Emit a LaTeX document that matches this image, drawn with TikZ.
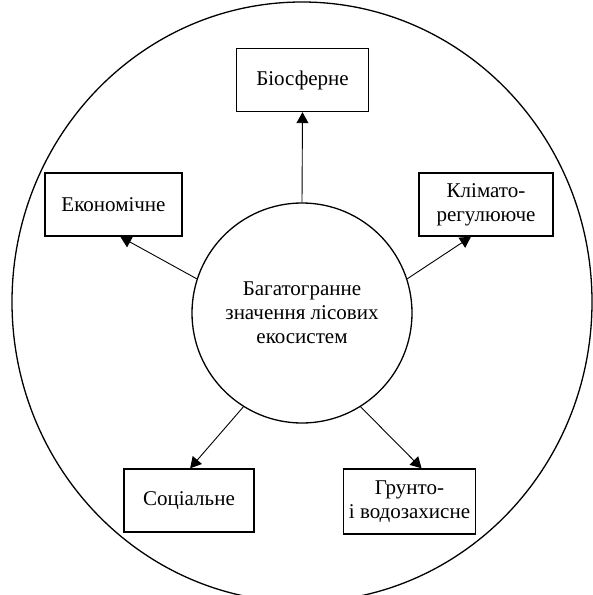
\documentclass[tikz,border=0pt]{standalone}
\usepackage{fontspec}
\setmainfont{Liberation Serif}
\usetikzlibrary{arrows.meta}
\usetikzlibrary{positioning}
\tikzset{
	box/.style={rectangle, draw=black, line width=1.4pt, align=center,
		minimum width=132pt, minimum height=63pt, inner sep=2pt},
	hubnode/.style={circle, draw=black, line width=1.3pt, align=center,
		minimum size=220pt, inner sep=0pt},
}

\begin{document}
\begin{tikzpicture}[x=1pt, y=-1pt,
	font=\fontsize{21}{24}\selectfont,
	link/.style={line width=0.9pt, -{Triangle[length=11pt,width=12pt]}}]
	\useasboundingbox (0,0) rectangle (593,595);

	% outer ring
	\draw[line width=1.3pt] (302,302) ellipse[x radius=290, y radius=300];

	% centre node
	\node[hubnode] (hub) at (302,313) {Багатогранне\\значення лісових\\екосистем};

	% boxes
	\node[box] (bio) at (302.5,80) {Біосферне};
	\node[box, minimum width=137pt] (econ) at (113.5,204.5) {Економічне};
	\node[box, minimum width=134pt] (klim) at (486,204.5) {Клімато-\\регулююче};
	\node[box, minimum width=130pt] (soc) at (189,500.5) {Соціальне};
	\node[box, minimum height=65pt] (grunt) at (409.5,501.5) {Грунто-\\і водозахисне};

	% arrows
	\draw[link] (hub.north) -- (bio.south);
	\draw[link] (hub.162) -- (econ.-78);
	\draw[link] (hub.18) -- (klim.-115);
	\draw[link] (hub.-122) -- (soc.88);
	\draw[link] (hub.-58) -- (grunt.70);
\end{tikzpicture}
\end{document}
